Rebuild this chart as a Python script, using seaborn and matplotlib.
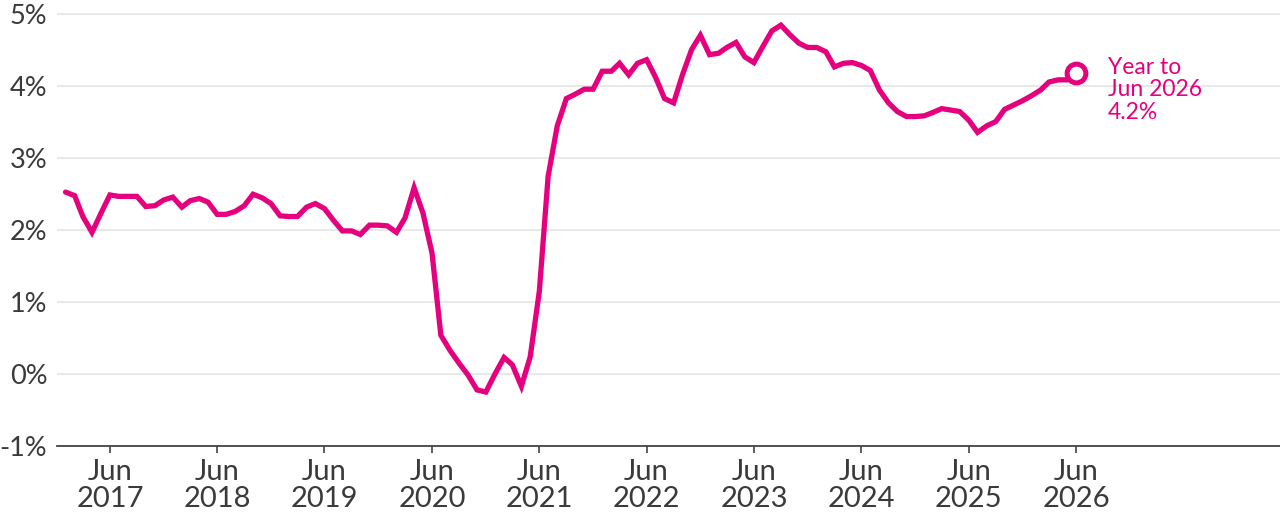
import matplotlib
matplotlib.use("Agg")
import matplotlib.pyplot as plt
import matplotlib.dates as mdates
import seaborn as sns
import pandas as pd

# ---- data ----
start_month = "2017-01-01"
growth_pct = [
    2.53, 2.48, 2.19, 1.97, 2.23, 2.49, 2.47, 2.47, 2.47, 2.33, 2.34, 2.42,
    2.46, 2.32, 2.41, 2.44, 2.39, 2.22, 2.22, 2.26, 2.34, 2.50, 2.45, 2.37,
    2.20, 2.19, 2.19, 2.32, 2.37, 2.30, 2.14, 1.99, 1.99, 1.94, 2.07, 2.07,
    2.06, 1.97, 2.17, 2.59, 2.24, 1.68, 0.54, 0.33, 0.15, -0.01, -0.22, -0.25,
    0.00, 0.23, 0.13, -0.17, 0.24, 1.15, 2.75, 3.45, 3.83, 3.89, 3.96, 3.96,
    4.21, 4.21, 4.32, 4.16, 4.32, 4.37, 4.13, 3.83, 3.77, 4.16, 4.51, 4.71,
    4.44, 4.46, 4.54, 4.61, 4.41, 4.33, 4.55, 4.77, 4.85, 4.72, 4.60, 4.54,
    4.54, 4.48, 4.27, 4.32, 4.33, 4.29, 4.22, 3.95, 3.77, 3.65, 3.58, 3.58,
    3.59, 3.64, 3.69, 3.67, 3.65, 3.53, 3.36, 3.45, 3.51, 3.68, 3.74, 3.80,
    3.87, 3.95, 4.06, 4.09, 4.09, 4.18,
]
y_ticks = [-1, 0, 1, 2, 3, 4, 5]
y_tick_labels = ["-1%", "0%", "1%", "2%", "3%", "4%", "5%"]
x_tick_years = list(range(2017, 2027))
x_tick_labels = [f"Jun\n{y}" for y in x_tick_years]
annotation_text = "Year to\nJun 2026\n4.2%"

dates = pd.date_range(start_month, periods=len(growth_pct), freq="MS")
df = pd.DataFrame({"date": dates, "growth": growth_pct})

MAGENTA = "#E5007E"
TEXT = "#3a3a3a"

sns.set_theme(style="white")
plt.rcParams["font.family"] = ["Lato", "DejaVu Sans"]

fig = plt.figure(figsize=(12.8, 5.19), dpi=100)
ax = fig.add_axes([57 / 1280, 73 / 519, 1 - 57 / 1280, 1 - 73 / 519])

sns.lineplot(data=df, x="date", y="growth", ax=ax, color=MAGENTA,
             linewidth=3.8, solid_joinstyle="miter", zorder=3)

last = df.iloc[-1]
ax.plot([last["date"]], [last["growth"]], marker="o", markersize=13.5,
        markerfacecolor="white", markeredgecolor=MAGENTA,
        markeredgewidth=3.6, zorder=4, linestyle="none")
ax.annotate(annotation_text, xy=(last["date"], last["growth"]),
            xytext=(23, 12), textcoords="offset points",
            ha="left", va="top", color=MAGENTA, fontsize=16.5,
            linespacing=1.1)

ax.set_ylim(-1, 5.2)
ax.set_xlim(pd.Timestamp("2016-12-03"), pd.Timestamp("2028-04-25"))

ax.set_yticks(y_ticks)
ax.set_yticklabels(y_tick_labels)
ax.set_xticks([pd.Timestamp(f"{y}-06-01") for y in x_tick_years])
ax.set_xticklabels(x_tick_labels, linespacing=1.05)

ax.grid(axis="y", color="#e6e6e6", linewidth=1.3, zorder=0)
ax.grid(axis="x", visible=False)

for s in ["top", "right", "left"]:
    ax.spines[s].set_visible(False)
ax.spines["bottom"].set_color("#444444")
ax.spines["bottom"].set_linewidth(1.3)
ax.spines["bottom"].set_zorder(5)

ax.tick_params(axis="y", length=0, pad=7, labelsize=19.5, labelcolor=TEXT)
ax.tick_params(axis="x", length=5, width=1.2, color="#444444", pad=4,
               labelsize=21, labelcolor=TEXT, direction="out", bottom=True)

ax.set_xlabel("")
ax.set_ylabel("")

fig.savefig("out.png", dpi=100)
